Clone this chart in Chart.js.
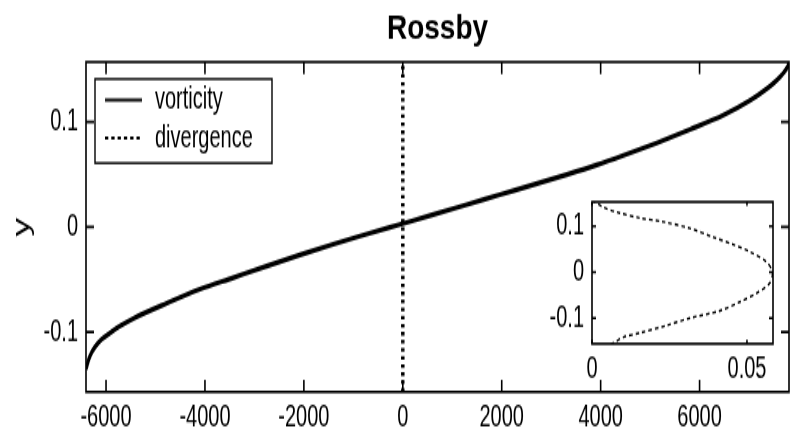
<!DOCTYPE html>
<html>
<head>
<meta charset="utf-8">
<script src="https://cdn.jsdelivr.net/npm/chart.js@4"></script>
<style>
  html, body { margin: 0; padding: 0; background: #fff; }
  #wrap { position: relative; width: 790px; height: 431px; }
  /* both canvases are drawn short and shown stretched to full height */
  #chart { position: absolute; left: 0; top: 0; }
  #inset { position: absolute; left: 540px; top: 170.5px; }
</style>
</head>
<body>
<div id="wrap">
  <canvas id="chart" width="790" height="278" style="width:790px;height:431px"></canvas>
  <canvas id="inset" width="245" height="136" style="width:245px;height:210.85px"></canvas>
</div>
<script>
const title = 'Rossby';
const seriesNames = ['vorticity', 'divergence'];

// vorticity profile: value vortX[i] at level vortY[i]
const vortX = [-6405, -6324, -6223, -6082, -5920, -5718, -5435, -4768, -4100,
  -3427, -2752, -2078, -1405, -730, -57, 617, 1292, 1965, 2639,
  3314, 3920, 4458, 5133, 5807, 6480, 7020, 7357, 7626, 7794, 7808];
const vortY = [-0.1351, -0.1227, -0.1142, -0.1066, -0.1009, -0.0943, -0.0867, -0.0725, -0.0592,
  -0.0482, -0.0372, -0.0266, -0.0163, -0.0068, 0.0025, 0.0118, 0.0213, 0.0308, 0.0403,
  0.0499, 0.059, 0.068, 0.08, 0.0928, 0.1064, 0.1205, 0.1315, 0.1428, 0.1538, 0.157];

// divergence profile (tiny next to vorticity, shown again in the inset)
const divY = [-0.157, -0.1533, -0.1417, -0.1321, -0.116, -0.1, -0.084, -0.0648, -0.0456, -0.0231,
  0, 0.0217, 0.0442, 0.0602, 0.0763, 0.0955, 0.1096, 0.118, 0.1308, 0.1417, 0.157];
const divX = [0.006, 0.0071, 0.0101, 0.0155, 0.0241, 0.0316, 0.0413, 0.0477, 0.0531, 0.0574,
  0.0582, 0.0564, 0.051, 0.0456, 0.0391, 0.0316, 0.023, 0.0155, 0.008, 0.0036, 0];

const xTicks = [-6000, -4000, -2000, 0, 2000, 4000, 6000];
const yTicks = [-0.1, 0, 0.1];
const insetXTicks = [0, 0.05];
const insetYTicks = [-0.1, 0, 0.1];

const sans = "'Liberation Sans', Arial, sans-serif";
const tickFont = { family: sans, size: 20 };

const toPoints = (xs, ys) => xs.map((v, i) => ({ x: v, y: ys[i] }));

// box round the plot with inward ticks on all four sides
const frame = {
  id: 'frame',
  beforeDatasetsDraw(chart) {
    const { ctx, chartArea: a } = chart;
    ctx.save();
    ctx.fillStyle = '#fff';
    ctx.fillRect(a.left, a.top, a.right - a.left, a.bottom - a.top);
    ctx.restore();
  },
  afterDatasetsDraw(chart, args, opts) {
    const { ctx, chartArea: a, scales: { x, y } } = chart;
    ctx.save();
    ctx.strokeStyle = '#000';
    ctx.lineWidth = opts.width;
    ctx.beginPath();
    x.ticks.forEach(t => {
      const px = x.getPixelForValue(t.value);
      ctx.moveTo(px, a.bottom); ctx.lineTo(px, a.bottom - opts.xLen);
      ctx.moveTo(px, a.top); ctx.lineTo(px, a.top + opts.xLen);
    });
    y.ticks.forEach(t => {
      const py = y.getPixelForValue(t.value);
      ctx.moveTo(a.left, py); ctx.lineTo(a.left + opts.yLen, py);
      ctx.moveTo(a.right, py); ctx.lineTo(a.right - opts.yLen, py);
    });
    ctx.stroke();
    ctx.strokeRect(a.left, a.top, a.right - a.left, a.bottom - a.top);
    ctx.restore();
  }
};

// bold title, drawn squashed so it keeps its shape after the vertical stretch
const squatTitle = {
  id: 'squatTitle',
  afterDraw(chart, args, opts) {
    const { ctx, chartArea: a } = chart;
    ctx.save();
    ctx.scale(1, opts.squash);
    ctx.fillStyle = '#000';
    ctx.font = 'bold ' + opts.size + 'px ' + sans;
    ctx.textAlign = 'center';
    ctx.textBaseline = 'alphabetic';
    ctx.fillText(opts.text, (a.left + a.right) / 2, opts.baseline / opts.squash);
    ctx.restore();
  }
};

// boxed legend in the upper left corner of the plot
const boxLegend = {
  id: 'boxLegend',
  afterDraw(chart, args, opts) {
    const { ctx, chartArea: a } = chart;
    const left = a.left + opts.x, top = a.top + opts.y;
    ctx.save();
    ctx.fillStyle = '#fff';
    ctx.fillRect(left, top, opts.w, opts.h);
    ctx.strokeStyle = '#000';
    ctx.lineWidth = 1.4;
    ctx.strokeRect(left, top, opts.w, opts.h);
    chart.data.datasets.forEach((ds, i) => {
      const cy = top + opts.rows[i];
      ctx.beginPath();
      ctx.setLineDash(opts.dashes[i]);
      ctx.lineWidth = opts.lineWidths[i];
      ctx.moveTo(left + opts.line[0], cy);
      ctx.lineTo(left + opts.line[1], cy);
      ctx.stroke();
      ctx.setLineDash([]);
      ctx.fillStyle = '#000';
      ctx.font = '20px ' + sans;
      ctx.textBaseline = 'middle';
      ctx.fillText(ds.label, left + opts.text, cy);
    });
    ctx.restore();
  }
};

function fixedTicks(list) {
  return scale => { scale.ticks = list.map(v => ({ value: v })); };
}

new Chart(document.getElementById('chart'), {
  type: 'line',
  data: {
    datasets: [
      {
        label: seriesNames[0],
        data: toPoints(vortX, vortY),
        borderColor: '#000',
        borderWidth: 3.2,
        cubicInterpolationMode: 'monotone',
        pointRadius: 0
      },
      {
        label: seriesNames[1],
        data: toPoints(divX, divY),
        borderColor: '#000',
        borderWidth: 3.5,
        borderDash: [2.3, 2.9],
        tension: 0,
        pointRadius: 0
      }
    ]
  },
  options: {
    responsive: false,
    animation: false,
    indexAxis: 'y',
    layout: { padding: { left: 0, right: 1, top: 40, bottom: 0 } },
    scales: {
      x: {
        type: 'linear', min: -6405, max: 7808,
        grid: { display: false, drawTicks: false },
        border: { display: false },
        afterBuildTicks: fixedTicks(xTicks),
        afterFit: s => { s.height = 25.2; },
        ticks: { padding: 5, color: '#000', font: tickFont, maxRotation: 0, autoSkip: false, callback: v => String(v) }
      },
      y: {
        type: 'linear', min: -0.157, max: 0.157,
        grid: { display: false, drawTicks: false },
        border: { display: false },
        afterBuildTicks: fixedTicks(yTicks),
        afterFit: s => { s.width = 86; },
        title: { display: true, text: 'y', color: '#000', font: { family: sans, size: 24 }, padding: { top: 8, bottom: 0 } },
        ticks: { padding: 8, color: '#000', font: tickFont, autoSkip: false, callback: v => String(v) }
      }
    },
    plugins: {
      legend: { display: false },
      tooltip: { enabled: false },
      title: { display: false },
      squatTitle: { text: title, size: 28, baseline: 25.2, squash: 0.768 },
      frame: { width: 1.6, xLen: 7.7, yLen: 8 },
      boxLegend: {
        x: 9, y: 10.95, w: 177, h: 54.2, rows: [13.55, 38.05], line: [10, 47], text: 60,
        lineWidths: [2.2, 2.2], dashes: [[], [3.3, 3]]
      }
    }
  },
  plugins: [frame, squatTitle, boxLegend]
});

// inset: divergence profile on its own scale
new Chart(document.getElementById('inset'), {
  type: 'line',
  data: {
    datasets: [{
      label: seriesNames[1],
      data: toPoints(divX, divY),
      borderColor: '#000',
      borderWidth: 1.4,
      borderDash: [3.5, 3],
      tension: 0.3,
      pointRadius: 0
    }]
  },
  options: {
    responsive: false,
    animation: false,
    indexAxis: 'y',
    layout: { padding: { left: 0, right: 12, top: 8.7, bottom: 0 } },
    scales: {
      x: {
        type: 'linear', min: 0, max: 0.0584,
        grid: { display: false, drawTicks: false },
        border: { display: false },
        afterBuildTicks: fixedTicks(insetXTicks),
        afterFit: s => { s.height = 24.1; },
        ticks: { padding: 5, color: '#000', font: tickFont, maxRotation: 0, autoSkip: false, callback: v => String(v) }
      },
      y: {
        type: 'linear', min: -0.156, max: 0.153,
        grid: { display: false, drawTicks: false },
        border: { display: false },
        afterBuildTicks: fixedTicks(insetYTicks),
        afterFit: s => { s.width = 52; },
        ticks: { padding: 8, color: '#000', font: tickFont, autoSkip: false, callback: v => String(v) }
      }
    },
    plugins: {
      legend: { display: false },
      tooltip: { enabled: false },
      title: { display: false },
      frame: { width: 1.6, xLen: 2.6, yLen: 4 }
    }
  },
  plugins: [frame]
});
</script>
</body>
</html>
